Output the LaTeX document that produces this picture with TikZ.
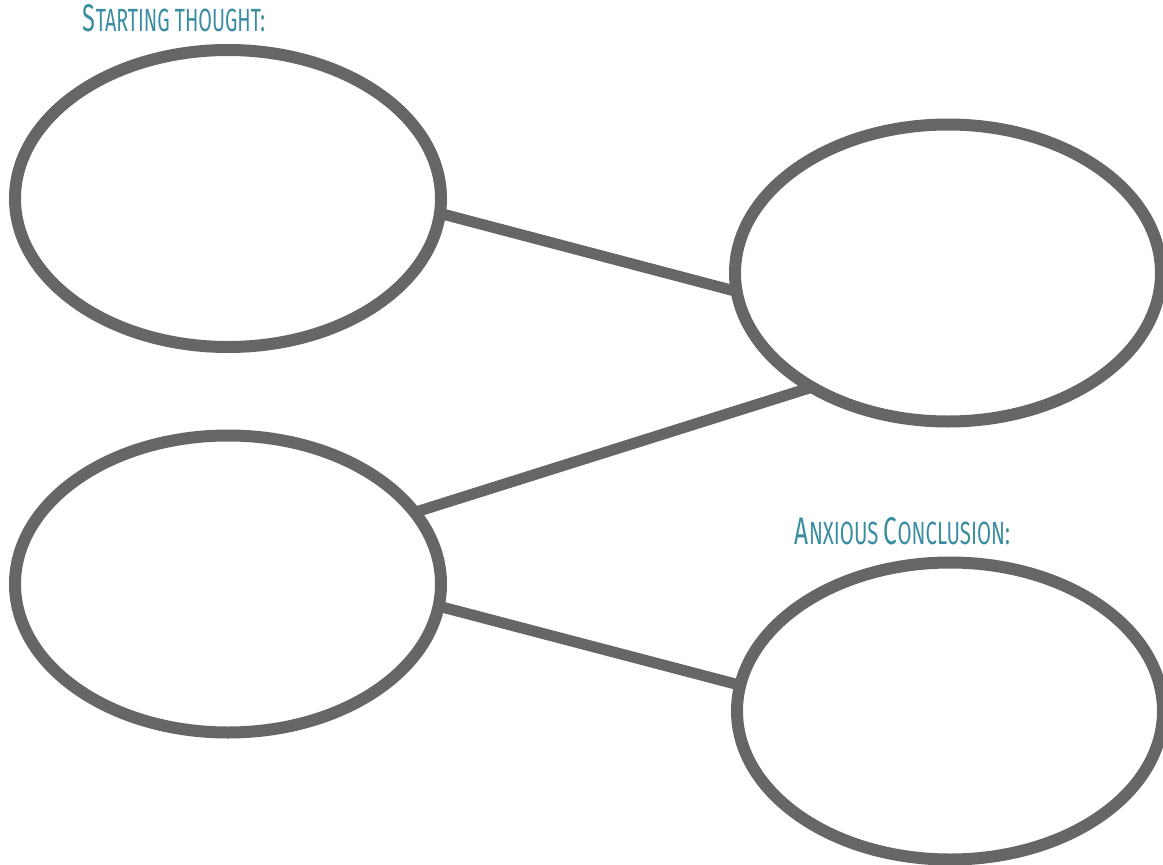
\documentclass[tikz,border=0pt]{standalone}
\usepackage{fontspec}
\setmainfont{Fira Sans}
\usepackage{graphicx}
\usetikzlibrary{shapes.geometric}
\definecolor{ringgray}{HTML}{666666}
\definecolor{labelteal}{HTML}{3A8DA1}
\newcommand{\capbig}[1]{{\fontsize{12}{12}\selectfont #1}}
\newcommand{\capsmall}[1]{{\fontsize{10}{12}\selectfont #1}}
\begin{document}
\begin{tikzpicture}[x=1pt,y=-1pt,
  bubble/.style={ellipse,draw=ringgray,line width=12pt,minimum width=426pt,minimum height=297pt,inner sep=0pt,outer sep=0pt},
  link/.style={draw=ringgray,line width=11pt},
  tag/.style={text=labelteal,inner sep=0pt}]
\useasboundingbox (0,0) rectangle (1163,865);
\node[bubble] (e1) at (228,198.5) {};
\node[bubble] (e2) at (948,273) {};
\node[bubble] (e3) at (228,584) {};
\node[bubble] (e4) at (950,711) {};
\draw[link] (e1.-4) -- (e2.-175.8);
\draw[link] (e3.21.3) -- (e2.-140.8);
\draw[link] (e3.-6.9) -- (e4.173.8);
\node[tag] (t1) at (174,18.5) {\resizebox{182pt}{27pt}{\capbig{S}\capsmall{TARTING THOUGHT:}}};
\node[tag] (t2) at (902.5,531.5) {\resizebox{215pt}{27pt}{\capbig{A}\capsmall{NXIOUS }\capbig{C}\capsmall{ONCLUSION:}}};
\end{tikzpicture}
\end{document}
